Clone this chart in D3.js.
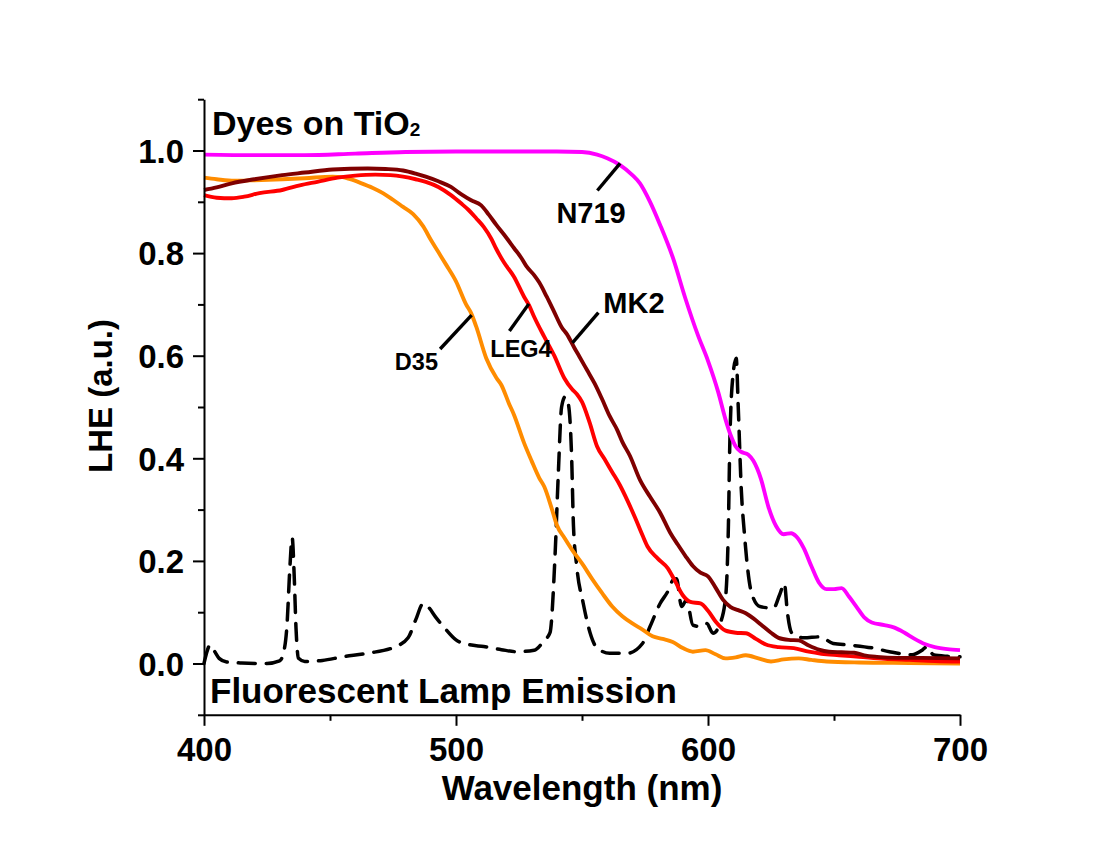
<!DOCTYPE html>
<html>
<head>
<meta charset="utf-8">
<script src="https://cdn.jsdelivr.net/npm/d3@7/dist/d3.min.js"></script>
<style>
  html, body { margin: 0; padding: 0; background: #fff; }
  svg { display: block; }
  text { font-family: "Liberation Sans", Arial, sans-serif; font-weight: bold; fill: #000; }
</style>
</head>
<body>
<svg id="chart" width="1100" height="848"></svg>
<script>
// Light harvesting efficiency of dyes on TiO2 and the fluorescent lamp spectrum

// N719
const n719Wl  = [400, 420, 440, 460, 480, 500, 520, 540, 550, 556, 560, 565, 570, 573, 577, 581, 586, 591, 596, 600, 604, 607, 609, 611, 613, 616, 618, 621, 624, 627, 630, 633, 635, 638, 641, 644, 647, 650, 653, 656, 659, 662, 665, 670, 674, 678, 682, 686, 690, 695, 700];
const n719Lhe = [0.992, 0.991, 0.991, 0.994, 0.997, 0.998, 0.998, 0.998, 0.997, 0.992, 0.985, 0.972, 0.952, 0.936, 0.900, 0.855, 0.792, 0.712, 0.640, 0.590, 0.530, 0.475, 0.445, 0.423, 0.413, 0.407, 0.395, 0.360, 0.305, 0.268, 0.252, 0.254, 0.248, 0.225, 0.190, 0.158, 0.145, 0.145, 0.147, 0.130, 0.110, 0.090, 0.080, 0.075, 0.070, 0.060, 0.048, 0.038, 0.032, 0.028, 0.026];

// MK2
const mk2Wl  = [400, 405, 411, 420, 431, 440, 451, 465, 472, 479, 484, 488, 493, 498, 502, 506, 510, 513, 516, 520, 523, 526, 528, 531, 533, 536, 539, 542, 544, 547, 549, 552, 555, 558, 561, 564, 566, 569, 573, 577, 581, 585, 588, 591, 594, 597, 600, 603, 606, 609, 612, 615, 618, 621, 625, 628, 632, 636, 640, 644, 648, 653, 658, 662, 667, 675, 685, 700];
const mk2Lhe = [0.923, 0.928, 0.936, 0.944, 0.952, 0.957, 0.963, 0.965, 0.964, 0.961, 0.955, 0.949, 0.940, 0.929, 0.915, 0.903, 0.893, 0.875, 0.855, 0.830, 0.810, 0.790, 0.774, 0.757, 0.743, 0.715, 0.685, 0.655, 0.642, 0.615, 0.598, 0.572, 0.546, 0.515, 0.482, 0.455, 0.432, 0.405, 0.358, 0.325, 0.294, 0.255, 0.232, 0.210, 0.190, 0.177, 0.170, 0.148, 0.124, 0.110, 0.104, 0.098, 0.088, 0.076, 0.060, 0.050, 0.046, 0.045, 0.035, 0.027, 0.023, 0.022, 0.021, 0.016, 0.013, 0.011, 0.011, 0.010];

// LEG4
const leg4Wl  = [400, 405, 411, 416, 422, 431, 438, 445, 453, 460, 468, 474, 479, 484, 488, 493, 498, 502, 505, 508, 511, 514, 516, 519, 523, 527, 529, 531, 535, 539, 543, 546, 548, 550, 553, 556, 559, 562, 565, 568, 571, 574, 576, 580, 584, 587, 590, 593, 597, 600, 603, 607, 611, 615, 619, 623, 628, 634, 640, 645, 652, 660, 670, 680, 690, 700];
const leg4Lhe = [0.913, 0.908, 0.907, 0.910, 0.917, 0.923, 0.932, 0.939, 0.947, 0.951, 0.953, 0.952, 0.949, 0.944, 0.939, 0.929, 0.913, 0.897, 0.884, 0.868, 0.851, 0.828, 0.808, 0.782, 0.754, 0.715, 0.698, 0.676, 0.637, 0.600, 0.556, 0.535, 0.525, 0.510, 0.470, 0.423, 0.398, 0.373, 0.348, 0.318, 0.285, 0.250, 0.228, 0.205, 0.186, 0.160, 0.133, 0.120, 0.117, 0.103, 0.082, 0.064, 0.060, 0.059, 0.048, 0.037, 0.032, 0.030, 0.023, 0.019, 0.016, 0.013, 0.009, 0.007, 0.005, 0.004];

// D35
const d35Wl  = [400, 405, 412, 420, 431, 440, 451, 455, 458, 462, 467, 471, 475, 479, 483, 487, 490, 493, 496, 500, 504, 506, 508, 512, 516, 518, 521, 523, 527, 530, 533, 535, 538, 540, 543, 546, 550, 554, 558, 562, 566, 570, 574, 578, 582, 586, 590, 594, 599, 603, 607, 611, 615, 620, 625, 630, 636, 641, 647, 660, 680, 700];
const d35Lhe = [0.947, 0.944, 0.941, 0.942, 0.944, 0.946, 0.949, 0.948, 0.944, 0.937, 0.927, 0.917, 0.904, 0.890, 0.876, 0.852, 0.826, 0.802, 0.778, 0.745, 0.700, 0.683, 0.657, 0.595, 0.557, 0.543, 0.507, 0.485, 0.430, 0.395, 0.362, 0.345, 0.302, 0.270, 0.245, 0.222, 0.195, 0.165, 0.137, 0.111, 0.092, 0.078, 0.066, 0.053, 0.048, 0.042, 0.030, 0.023, 0.026, 0.018, 0.010, 0.012, 0.016, 0.010, 0.004, 0.008, 0.010, 0.007, 0.004, 0.002, 0.001, 0.000];

// Fluorescent lamp emission (normalised)
const lampWl  = [400, 401, 402.4, 404, 406, 409, 415, 425, 430, 431.5, 433, 434, 435, 435.8, 436.5, 437.5, 440, 447, 455, 465, 476, 481, 484, 487, 489, 492, 495, 500, 505, 511, 518, 524, 531, 535, 537.3, 539.3, 540.6, 541.9, 543.3, 544.6, 545.9, 546.6, 547.9, 550.5, 553.2, 556, 561, 568, 574, 577, 581, 584, 586.2, 587.5, 589.5, 591.5, 594, 597, 599.5, 602, 604.8, 607, 608.1, 608.7, 610, 611.2, 612, 613.2, 614.5, 615.4, 617.3, 620.6, 626, 628.5, 630.3, 631.5, 633.2, 638, 644.4, 649.7, 656, 665.6, 672, 681, 685, 687, 689.4, 695, 700];
const lampEm  = [0.000, 0.020, 0.036, 0.025, 0.010, 0.003, 0.001, 0.000, 0.005, 0.020, 0.080, 0.180, 0.245, 0.170, 0.070, 0.010, 0.004, 0.006, 0.013, 0.020, 0.033, 0.050, 0.085, 0.117, 0.110, 0.090, 0.072, 0.046, 0.037, 0.033, 0.027, 0.023, 0.026, 0.045, 0.060, 0.210, 0.370, 0.500, 0.520, 0.505, 0.400, 0.270, 0.190, 0.117, 0.060, 0.030, 0.020, 0.020, 0.039, 0.072, 0.117, 0.140, 0.163, 0.165, 0.111, 0.124, 0.075, 0.072, 0.078, 0.059, 0.078, 0.130, 0.270, 0.440, 0.566, 0.595, 0.500, 0.340, 0.250, 0.200, 0.137, 0.111, 0.108, 0.135, 0.156, 0.100, 0.060, 0.050, 0.052, 0.039, 0.036, 0.030, 0.023, 0.017, 0.026, 0.033, 0.017, 0.014, 0.013];

// Axis ticks
const xMajorTicks = [400, 500, 600, 700];
const xMinorTicks = [450, 550, 650];
const yMajorTicks = [0.0, 0.2, 0.4, 0.6, 0.8, 1.0];
const yMinorTicks = [-0.1, 0.1, 0.3, 0.5, 0.7, 0.9, 1.1];

const svg = d3.select("#chart");
const plot = { left: 204, right: 960, top: 99.2, bottom: 714.8 };

const x = d3.scaleLinear().domain([400, 700]).range([plot.left, plot.right]);
const y = d3.scaleLinear().domain([-0.1, 1.1]).range([plot.bottom, plot.top]);

const zip = (xs, ys) => xs.map((v, i) => [v, ys[i]]);

const line = d3.line()
  .x(d => x(d[0]))
  .y(d => y(d[1]))
  .curve(d3.curveMonotoneX);

// Lamp spectrum underneath the dye curves
svg.append("path")
  .datum(zip(lampWl, lampEm))
  .attr("d", line)
  .attr("fill", "none")
  .attr("stroke", "#000")
  .attr("stroke-width", 3.5)
  .attr("stroke-dasharray", "17,11")
  .attr("stroke-linecap", "round");

const dyes = [
  { wl: d35Wl,  v: d35Lhe,  color: "#ff8c00" },
  { wl: leg4Wl, v: leg4Lhe, color: "#ff0000" },
  { wl: mk2Wl,  v: mk2Lhe,  color: "#7f0000" },
  { wl: n719Wl, v: n719Lhe, color: "#ff00ff" }
];

dyes.forEach(s => {
  svg.append("path")
    .datum(zip(s.wl, s.v))
    .attr("d", line)
    .attr("fill", "none")
    .attr("stroke", s.color)
    .attr("stroke-width", 3.9)
    .attr("stroke-linejoin", "round");
});

// Axes
const axisStyle = g => {
  g.selectAll("path, line").attr("stroke", "#000").attr("stroke-width", 2);
};

const xAxis = svg.append("g")
  .attr("transform", `translate(0,${plot.bottom})`)
  .call(d3.axisBottom(x).tickValues(xMajorTicks).tickSize(11).tickSizeOuter(0).tickFormat(d3.format("d")))
  .call(axisStyle);
xAxis.selectAll("text")
  .attr("y", 46).attr("dy", 0)
  .style("font-size", "33px");

svg.append("g")
  .attr("transform", `translate(0,${plot.bottom})`)
  .call(d3.axisBottom(x).tickValues(xMinorTicks).tickSize(6).tickSizeOuter(0).tickFormat(""))
  .call(axisStyle)
  .select(".domain").remove();

const yAxis = svg.append("g")
  .attr("transform", `translate(${plot.left},0)`)
  .call(d3.axisLeft(y).tickValues(yMajorTicks).tickSize(11).tickSizeOuter(0).tickFormat(d3.format(".1f")))
  .call(axisStyle);
yAxis.selectAll("text")
  .attr("x", -20).attr("dy", "0.36em")
  .style("font-size", "33px");

svg.append("g")
  .attr("transform", `translate(${plot.left},0)`)
  .call(d3.axisLeft(y).tickValues(yMinorTicks).tickSize(6).tickSizeOuter(0).tickFormat(""))
  .call(axisStyle)
  .select(".domain").remove();

// Axis titles
svg.append("text")
  .attr("x", (plot.left + plot.right) / 2)
  .attr("y", 800)
  .attr("text-anchor", "middle")
  .style("font-size", "35px")
  .text("Wavelength (nm)");

svg.append("text")
  .attr("transform", `translate(112,396) rotate(-90)`)
  .attr("text-anchor", "middle")
  .style("font-size", "33px")
  .text("LHE (a.u.)");

// Panel captions
const cap = svg.append("text")
  .attr("x", plot.left + 8)
  .attr("y", 135)
  .style("font-size", "34px");
cap.append("tspan").text("Dyes on TiO");
cap.append("tspan").attr("dy", 1).style("font-size", "19px").text("2");

svg.append("text")
  .attr("x", plot.left + 6)
  .attr("y", 703)
  .style("font-size", "35px")
  .text("Fluorescent Lamp Emission");

// Curve labels with leader lines (wavelength, LHE)
const labels = [
  { name: "N719", from: [565.1, 0.975], to: [556.1, 0.922], at: [553.6, 0.859], size: 29 },
  { name: "MK2",  from: [546.2, 0.625], to: [556.5, 0.684], at: [570.6, 0.684], size: 29 },
  { name: "LEG4", from: [528.9, 0.701], to: [521.2, 0.648], at: [525.8, 0.597], size: 23.5 },
  { name: "D35",  from: [506.2, 0.679], to: [493.7, 0.613], at: [484.3, 0.573], size: 23.5 }
];

labels.forEach(l => {
  svg.append("line")
    .attr("x1", x(l.from[0])).attr("y1", y(l.from[1]))
    .attr("x2", x(l.to[0])).attr("y2", y(l.to[1]))
    .attr("stroke", "#000")
    .attr("stroke-width", 3.4);
  svg.append("text")
    .attr("x", x(l.at[0]))
    .attr("y", y(l.at[1]))
    .attr("text-anchor", "middle")
    .style("font-size", l.size + "px")
    .text(l.name);
});
</script>
</body>
</html>
